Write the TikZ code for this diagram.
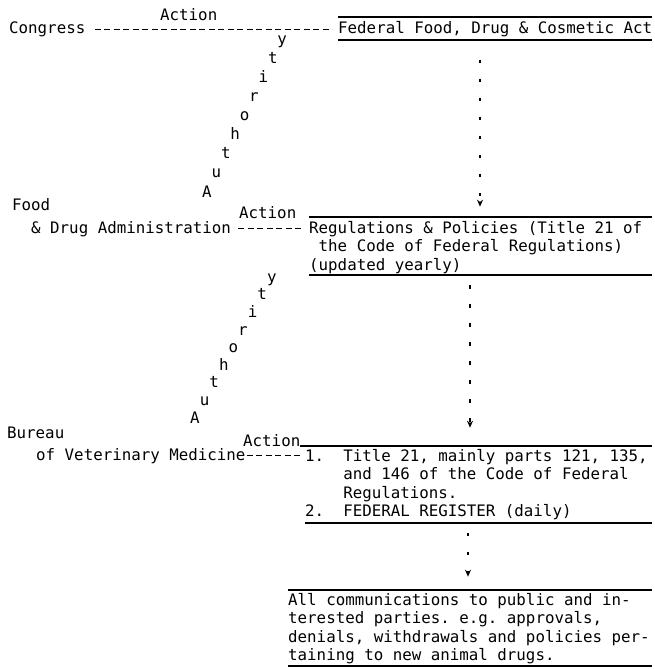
\documentclass[tikz,border=0pt]{standalone}
\usepackage{fontspec}
\setmonofont{DejaVu Sans Mono}
\usetikzlibrary{arrows.meta}
\newcommand{\chars}[1]{\hspace*{#1\fontcharwd\font`x}}
\newcommand{\setspaces}{\spaceskip=\fontcharwd\font`x\relax\xspaceskip=\spaceskip}

\begin{document}
\begin{tikzpicture}[x=1pt,y=-1pt,
  txt/.style={inner sep=0pt,anchor=base west,
    font=\ttfamily\fontsize{15.8}{18.5}\selectfont\frenchspacing},
  block/.style={txt,text width=370pt},
  letter/.style={txt,anchor=base},
  typed/.style={line width=1.3pt,dash pattern=on 6pt off 3.5pt},
  rule/.style={line width=1.1pt},
  flow/.style={line width=1.6pt,dash pattern=on 3.5pt off 15.5pt,
    -{Stealth[length=7pt,width=6pt]}}]
  \useasboundingbox (0,0) rectangle (654,669);
  % Agencies
  \node[txt] (congress) at (9,34) {Congress};
  \node[txt] (food) at (12,210) {Food};
  \node[txt] (fda) at (31,233) {\& Drug Administration};
  \node[txt] (bureau) at (7,438) {Bureau};
  \node[txt] (bvm) at (36,460) {of Veterinary Medicine};
  % Documents
  \node[txt] (fdca) at (338,34) {Federal Food, Drug \& Cosmetic Act};
  \node[block] (regs) at (309,233) {\setspaces Regulations \& Policies (Title 21 of\\\chars{1}the Code of Federal Regulations)\\(updated yearly)};
  \node[block] (cfr) at (305,461) {\setspaces 1.\chars{2}Title 21, mainly parts 121, 135,\\\chars{4}and 146 of the Code of Federal\\\chars{4}Regulations.\\2.\chars{2}FEDERAL REGISTER (daily)};
  \node[block] (comms) at (288,605) {\setspaces All communications to public and in-\\terested parties. e.g. approvals,\\denials, withdrawals and policies per-\\taining to new animal drugs.};
  % Action labels
  \node[txt] (act1) at (160,21) {Action};
  \node[txt] (act2) at (239,218) {Action};
  \node[txt] (act3) at (243,446) {Action};
  % Authority
  \foreach \ch [count=\i from 0] in {A,u,t,h,o,r,i,t,y} {
    \node[letter] (authA\i) at ({207+9.4*\i},{197-19.1*\i}) {\ch};
    \node[letter] (authB\i) at ({195+9.6*\i},{423-17.6*\i}) {\ch};
  }
  % Action lines
  \draw[typed,shorten <=9pt,shorten >=6pt] (congress.east) -- (congress.east -| fdca.west);
  \draw[typed,shorten <=7pt,shorten >=5pt] (fda.east) -- (fda.east -| regs.west);
  \draw[typed,shorten <=1pt,shorten >=2pt] (bvm.east) -- (bvm.east -| cfr.west);
  % Rules
  \draw[rule] (fdca.base west) ++(0,-17) -- ++(314,0);
  \draw[rule] (fdca.base west) ++(0,6) -- ++(314,0);
  \draw[rule] (regs.base west) ++(0,-16) -- ++(343,0);
  \draw[rule] (regs.base west) ++(0,42) -- ++(343,0);
  \draw[rule] (act3.base east) -- ++(352,0);
  \draw[rule] (cfr.base west) ++(0,62) -- ++(347,0);
  \draw[rule] (comms.base west) ++(0,-15) -- ++(364,0);
  \draw[rule] (comms.base west) ++(0,61) -- ++(364,0);
  % Flow
  \coordinate (c1) at (480,0);
  \coordinate (c2) at (470,0);
  \coordinate (c3) at (468,0);
  \draw[flow,shorten <=22pt,shorten >=14pt] (fdca.south -| c1) -- (regs.north -| c1);
  \draw[flow,shorten <=12pt,shorten >=21pt] (regs.south -| c2) -- (cfr.north -| c2);
  \draw[flow,shorten <=13pt,shorten >=16pt] (cfr.south -| c3) -- (comms.north -| c3);
\end{tikzpicture}
\end{document}
